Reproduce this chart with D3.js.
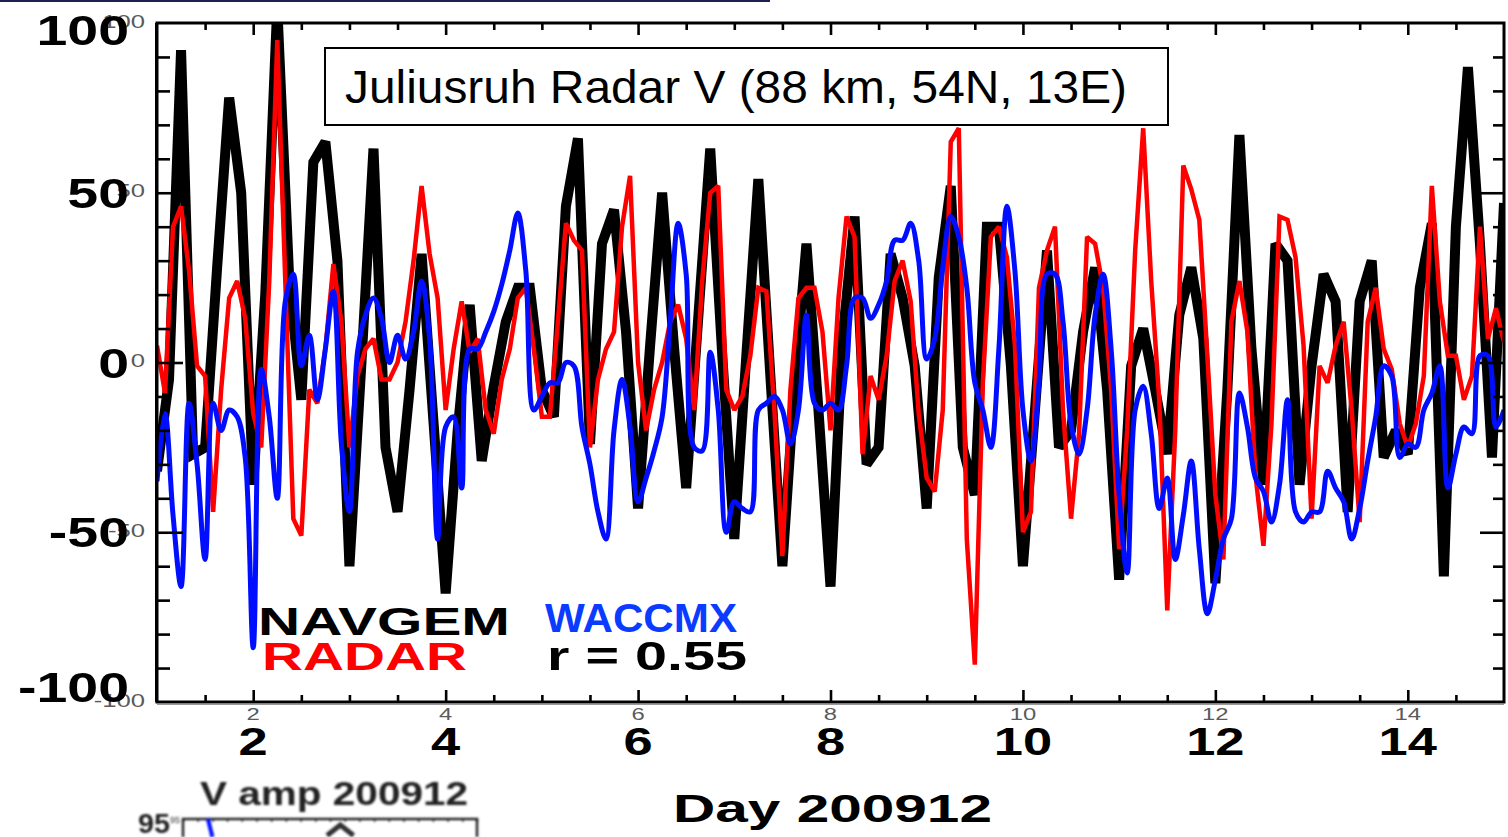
<!DOCTYPE html>
<html>
<head>
<meta charset="utf-8">
<script src="https://cdn.jsdelivr.net/npm/d3@7"></script>
<style>
  html, body { margin: 0; padding: 0; background: #fff; }
  svg { display: block; }
</style>
</head>
<body>
<svg id="chart" width="1508" height="837"></svg>
<script>
// Meridional wind V (m/s) at 88 km over Juliusruh, December 2009.
// NAVGEM analysis: 3-hourly values starting day 1 00 UT.
const navgemV = [
  -32, -5, 92, -27, -25, 28, 78, 50, -36, 20, 105, 24, -11, 59, 65, 30,
  -60, 0, 63, -25, -44, -8, 32, -18, -68, -20, 17, -29, -7, 12, 22, 22,
  -8, -16, 46, 66, -24, 35, 45, 9, -43, 5, 50, 4, -37, 13, 63, 2,
  -52, 2, 54, -4, -60, -7, 35, -14, -66, 7, 43, -30, -25, 32, 19, -1,
  -43, 25, 52, -25, -39, 40, 40, -1, -60, -14, 33, -25, -20, 9, 28, -8,
  -64, -1, 10, -8, -27, 14, 28, 7, -65, -8, 67, 4, -36, 35, 30, -36,
  -1, 26, 18, -44, 18, 30, -28, -20, -27, 22, 41, -63, 40, 87, 35, -28,
  47
];
// Meteor radar winds: 2-hourly values starting day 1 00 UT.
const radarV = [
  5, -9, 40, 46, 27, -1, -4, -44, -8, 19, 24, 13,
  -15, -25, 24, 95, 24, -46, -51, -8, -12, 4, 29, 12,
  -25, -4, 4, 7, -5, -5, 0, 12, 30, 52, 32, 19,
  -14, 4, 18, 3, 7, -14, -21, -5, 4, 19, 22, 4,
  -16, -16, 12, 41, 36, 33, -25, -5, 4, 9, 40, 55,
  0, -20, -8, 0, 12, 17, 7, -14, 24, 50, 52, -8,
  -14, -10, 2, 22, 21, -14, -57, -8, 19, 22, 22, 9,
  -20, 19, 43, 37, -27, -4, -11, 2, 24, 30, 18, -15,
  -34, -38, -14, 65, 69, -52, -89, -6, 37, 40, 31, 5,
  -50, -44, 22, 33, 40, -14, -46, -21, 37, 35, 22, -8,
  -55, -20, 33, 69, 24, -11, -73, -20, 58, 51, 42, 2,
  -39, -58, 12, 24, 9, -33, -54, -18, 43, 42, 31, 5,
  -46, -1, -6, 5, 12, -14, -47, 12, 22, 4, -2, -18,
  -25, -18, -4, 52, 18, 2, 2, -11, -4, 40, 7, 16,
  6
];
// WACCM-X model winds: 2-hourly values starting day 1 00 UT.
const waccmxV = [
  -35, -15, -45, -66, -12, -30, -58, -12, -20, -14, -16, -28,
  -84, -2, -16, -40, 18, 26, -1, 8, -11, 4, 21, -24,
  -44, 3, 14, 19, 13, 0, 8, 1, 9, 24, 7, -52,
  -19, -16, -37, 4, 4, 9, 15, 23, 33, 44, 27, -14,
  -10, -6, -6, 0, -1, -19, -30, -44, -52, -20, -5, -19,
  -41, -34, -26, -16, 12, 41, 26, -25, -26, 3, -14, -50,
  -41, -43, -44, -14, -12, -10, -14, -24, -14, 14, -12, -14,
  -12, -14, -1, 19, 19, 13, 17, 24, 36, 36, 41, 30,
  1, 7, 28, 43, 37, 22, -6, -14, -25, 4, 46, 27,
  -14, -29, -6, 26, 26, 12, -18, -27, -14, 14, 26, 4,
  -39, -62, -14, -7, -21, -43, -34, -58, -45, -29, -55, -74,
  -64, -52, -46, -9, -19, -34, -38, -47, -36, -11, -44, -47,
  -44, -44, -32, -37, -41, -52, -43, -29, -16, -1, -4, -28,
  -24, -25, -14, -9, -1, -37, -27, -19, -21, 2, 2, -19,
  -14
];
const navgemStepHours = 3;
const radarStepHours = 2;
const waccmxStepHours = 2;
const dayStart = 1;
const dayEnd = 15;

const yTickLabels = [-100, -50, 0, 50, 100];
const xTickLabels = [2, 4, 6, 8, 10, 12, 14];
const titleText = "Juliusruh Radar V (88 km, 54N, 13E)";
const xAxisTitle = "Day 200912";
const correlationText = "r = 0.55";

// Fragment of the amplitude panel below the time series
const insetTitle = "V amp 200912";
const insetTopLabel = "95";
const insetBlue = [[0.085, 95], [0.1, 83]];
const insetBlack = [[0.49, 84], [0.535, 91], [0.58, 84]];

const svg = d3.select("#chart");
const FONT = "'Liberation Sans', Arial, Helvetica, sans-serif";

const x = d3.scaleLinear().domain([dayStart, dayEnd]).range([157, 1504]);
const y = d3.scaleLinear().domain([-100, 100]).range([702, 23]);

const defs = svg.append("defs");
defs.append("clipPath").attr("id", "plotClip")
  .append("rect")
  .attr("x", x(dayStart)).attr("y", y(100))
  .attr("width", x(dayEnd) - x(dayStart)).attr("height", y(-100) - y(100));
defs.append("filter").attr("id", "soft").attr("x", "-5%").attr("y", "-5%")
  .attr("width", "110%").attr("height", "110%")
  .append("feGaussianBlur").attr("stdDeviation", 0.6);
defs.append("filter").attr("id", "fuzzy").attr("x", "-5%").attr("y", "-20%")
  .attr("width", "110%").attr("height", "140%")
  .append("feGaussianBlur").attr("stdDeviation", 1.0);

// thin navy rule along the top of the page
svg.append("rect").attr("x", 0).attr("y", 0).attr("width", 770).attr("height", 2)
  .attr("fill", "#1f1f4f");

// Text helper: draws text and stretches it horizontally
function stretchText(g, o) {
  const t = g.append("text")
    .attr("x", o.x).attr("y", o.y)
    .attr("font-family", o.family || FONT)
    .attr("font-size", o.size)
    .attr("font-weight", o.weight || "normal")
    .attr("fill", o.fill || "#000")
    .attr("text-anchor", o.anchor || "start")
    .text(o.text);
  const natural = t.node().getComputedTextLength();
  const len = o.width != null ? o.width : natural * (o.factor || 1);
  t.attr("textLength", len).attr("lengthAdjust", "spacingAndGlyphs");
  return t;
}

// ---- series ----
const series = [
  { values: navgemV, step: navgemStepHours, color: "#000000", width: 10, curve: d3.curveLinear },
  { values: radarV, step: radarStepHours, color: "#ff0000", width: 4.5, curve: d3.curveLinear },
  { values: waccmxV, step: waccmxStepHours, color: "#0010ff", width: 5, curve: d3.curveCatmullRom.alpha(0.5), filter: "url(#soft)" }
];
const lines = svg.append("g").attr("clip-path", "url(#plotClip)");
series.forEach(s => {
  const pts = s.values.map((v, i) => [dayStart + i * s.step / 24, v]);
  const line = d3.line().x(d => x(d[0])).y(d => y(d[1])).curve(s.curve);
  lines.append("path")
    .datum(pts)
    .attr("d", line)
    .attr("fill", "none")
    .attr("stroke", s.color)
    .attr("stroke-width", s.width)
    .attr("stroke-linejoin", "miter")
    .attr("stroke-miterlimit", 2)
    .attr("filter", s.filter || null);
});

// ---- ticks (inward on all four sides) ----
const minorX = d3.range(dayStart + 0.5, dayEnd, 0.5).filter(d => d % 2 !== 0);
const majorX = d3.range(2, dayEnd, 2);
const minorY = d3.range(-90, 100, 10).filter(v => v % 50 !== 0);
const majorY = [-50, 0, 50];

function tickAxis(axis, transform, values, size) {
  const g = svg.append("g").attr("transform", transform)
    .call(axis.tickValues(values).tickSize(size).tickFormat(""));
  g.select(".domain").remove();
  g.selectAll(".tick line").attr("stroke", "#000").attr("stroke-width", 2.6);
}
tickAxis(d3.axisBottom(x), `translate(0,${y(-100)})`, minorX, -7);
tickAxis(d3.axisBottom(x), `translate(0,${y(-100)})`, majorX, -12);
tickAxis(d3.axisTop(x), `translate(0,${y(100)})`, minorX, -7);
tickAxis(d3.axisTop(x), `translate(0,${y(100)})`, majorX, -12);
tickAxis(d3.axisLeft(y), `translate(${x(dayStart)},0)`, minorY, -13);
tickAxis(d3.axisLeft(y), `translate(${x(dayStart)},0)`, majorY, -26);
tickAxis(d3.axisRight(y), `translate(${x(dayEnd)},0)`, minorY, -11);
tickAxis(d3.axisRight(y), `translate(${x(dayEnd)},0)`, majorY, -24);

// frame
svg.append("line").attr("x1", x(dayStart)).attr("x2", x(dayEnd))
  .attr("y1", y(-100) + 2.5).attr("y2", y(-100) + 2.5)
  .attr("stroke", "#9a9a9a").attr("stroke-width", 1.2);
svg.append("rect")
  .attr("x", x(dayStart)).attr("y", y(100))
  .attr("width", x(dayEnd) - x(dayStart)).attr("height", y(-100) - y(100))
  .attr("fill", "none").attr("stroke", "#000").attr("stroke-width", 3);
svg.append("line").attr("x1", x(dayStart) - 1).attr("x2", x(dayStart) - 1)
  .attr("y1", y(100)).attr("y2", y(-100))
  .attr("stroke", "#000").attr("stroke-width", 2);

// ---- tick labels ----
const labels = svg.append("g");
// small grey labels
yTickLabels.forEach(v => {
  stretchText(labels, { x: 145, y: y(v) + 4.5, text: String(v), size: 19, fill: "#5a5a5a", anchor: "end", factor: 1.35 });
});
xTickLabels.forEach(d => {
  stretchText(labels, { x: x(d), y: 720, text: String(d), size: 17, fill: "#5a5a5a", anchor: "middle", factor: 1.4 });
});
// large bold labels
yTickLabels.forEach(v => {
  const cy = Math.min(Math.max(y(v), 30), 687);
  stretchText(labels, { x: 129, y: cy + 15, text: String(v), size: 42, weight: "bold", anchor: "end", factor: 1.32 });
});
xTickLabels.forEach(d => {
  stretchText(labels, { x: x(d), y: 755, text: String(d), size: 38, weight: "bold", anchor: "middle", factor: 1.38 });
});
stretchText(labels, { x: 673, y: 822, text: xAxisTitle, size: 39, weight: "bold", width: 319 });

// ---- title box ----
svg.append("rect").attr("x", 325).attr("y", 48).attr("width", 843).attr("height", 77)
  .attr("fill", "#fff").attr("stroke", "#000").attr("stroke-width", 2);
stretchText(svg, { x: 345, y: 103, text: titleText, size: 47, width: 782 });

// ---- legend ----
const legend = svg.append("g");
stretchText(legend, { x: 258, y: 635, text: "NAVGEM", size: 39, weight: "bold", fill: "#000", width: 252 });
stretchText(legend, { x: 262, y: 670, text: "RADAR", size: 38, weight: "bold", fill: "#ff0000", width: 205 });
stretchText(legend, { x: 545, y: 632, text: "WACCMX", size: 41, weight: "bold", fill: "#0a3cff", width: 192 });
stretchText(legend, { x: 547, y: 670, text: correlationText, size: 41, weight: "bold", fill: "#000", width: 200 });

// ---- amplitude panel fragment ----
const inset = svg.append("g").attr("filter", "url(#fuzzy)");
const ix = d3.scaleLinear().domain([0, 1]).range([183, 477]);
const iy = d3.scaleLinear().domain([95, 83]).range([819, 837]);
stretchText(inset, { x: 200, y: 805, text: insetTitle, size: 34, weight: "bold", fill: "#222", width: 268 });
stretchText(inset, { x: 138, y: 833, text: insetTopLabel, size: 27, weight: "bold", fill: "#222", width: 32 });
inset.append("text").attr("x", 170).attr("y", 823).attr("font-family", FONT)
  .attr("font-size", 9).attr("fill", "#333").text(insetTopLabel);
const insetTicks = inset.append("g").attr("transform", `translate(0,${iy(95)})`)
  .call(d3.axisTop(ix).ticks(20).tickSize(-3).tickFormat(""));
insetTicks.select(".domain").remove();
insetTicks.selectAll(".tick line").attr("stroke", "#444").attr("stroke-width", 1.5);
inset.append("path")
  .attr("d", `M${ix(0)},${iy(83)}V${iy(95)}H${ix(1)}V${iy(83)}`)
  .attr("fill", "none").attr("stroke", "#222").attr("stroke-width", 2.5);
const iline = d3.line().x(d => ix(d[0])).y(d => iy(d[1]));
inset.append("path").datum(insetBlack).attr("d", iline)
  .attr("fill", "none").attr("stroke", "#333").attr("stroke-width", 5);
inset.append("path").datum(insetBlue).attr("d", iline)
  .attr("fill", "none").attr("stroke", "#0010ff").attr("stroke-width", 4);
</script>
</body>
</html>
